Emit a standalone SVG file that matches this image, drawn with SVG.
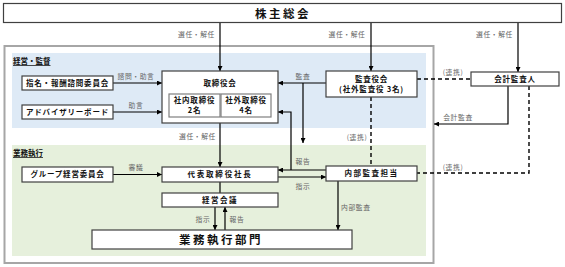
<svg xmlns="http://www.w3.org/2000/svg" width="565" height="267" viewBox="0 0 565 267">
<defs>
<style>
text{font-family:"Noto Sans CJK JP","Noto Sans",sans-serif;}
.box{fill:#fff;stroke:#404040;stroke-width:1.2;}
.inner{fill:#fff;stroke:#7f7f7f;stroke-width:1.2;}
.nt{font-size:7.5px;font-weight:bold;fill:#111;text-anchor:middle;letter-spacing:0.8px;}
.big{font-size:11.5px;font-weight:bold;fill:#111;text-anchor:middle;letter-spacing:2.5px;}
.lb{font-size:6.8px;fill:#666;letter-spacing:0.6px;}
.sec{font-size:7.5px;font-weight:bold;fill:#111;text-decoration:underline;}
.c{fill:none;stroke:#000;stroke-width:1.2;}
.d{fill:none;stroke:#000;stroke-width:1.4;stroke-dasharray:4 3;}
</style>
<marker id="arr" viewBox="0 0 6 6" refX="6" refY="3" markerWidth="5" markerHeight="5" orient="auto" markerUnits="userSpaceOnUse">
<path d="M0,0 L6,3 L0,6 z" fill="#000"/>
</marker>
</defs>
<rect width="565" height="267" fill="#fff"/>

<g id="frame">
<rect x="4.5" y="46" width="429" height="217" fill="#fff" stroke="#a6a6a6" stroke-width="2"/>
<rect x="12" y="53" width="414" height="75" fill="#deeaf6"/>
<rect x="12" y="145" width="414" height="111" fill="#e6f0dc"/>
<text class="sec" x="13" y="64">経営・監督</text>
<text class="sec" x="13" y="156">業務執行</text>
</g>

<g id="connectors">
<path class="c" d="M220,23 V71" marker-end="url(#arr)"/>
<path class="c" d="M371,23 V71" marker-end="url(#arr)"/>
<path class="c" d="M518,23 V72" marker-end="url(#arr)"/>
<path class="c" d="M220,123 V167" marker-end="url(#arr)"/>
<path class="c" d="M113,83 H162" marker-end="url(#arr)"/>
<path class="c" d="M113,112 H162" marker-end="url(#arr)"/>
<path class="c" d="M113,174.5 H162" marker-end="url(#arr)"/>
<path class="c" d="M326,83 H278" marker-end="url(#arr)"/>
<path class="c" d="M303,83 V143" marker-end="url(#arr)"/>
<path class="c" d="M326,170 H278" marker-end="url(#arr)"/>
<path class="c" d="M291,170 V112 H278" marker-end="url(#arr)"/>
<path class="c" d="M278,177 H326" marker-end="url(#arr)"/>
<path class="c" d="M220,182 V193"/>
<path class="c" d="M215,207 V230" marker-end="url(#arr)"/>
<path class="c" d="M225,230 V207" marker-end="url(#arr)"/>
<path class="c" d="M338,181 V230" marker-end="url(#arr)"/>
<path class="c" d="M508,86 V124 H434" marker-end="url(#arr)"/>
<path class="d" d="M417,79 H471"/>
<path class="d" d="M371,97 V166"/>
<path class="d" d="M529,86 V173 H417"/>
<text class="lb" x="215" y="37" text-anchor="end">選任・解任</text>
<text class="lb" x="347" y="37" text-anchor="middle">選任・解任</text>
<text class="lb" x="513" y="37" text-anchor="end">選任・解任</text>
<text class="lb" x="216" y="139" text-anchor="end">選任・解任</text>
<text class="lb" x="136" y="79" text-anchor="middle">諮問・助言</text>
<text class="lb" x="136" y="108" text-anchor="middle">助言</text>
<text class="lb" x="303" y="79" text-anchor="middle">監査</text>
<text class="lb" x="303" y="164" text-anchor="middle">報告</text>
<text class="lb" x="303" y="189" text-anchor="middle">指示</text>
<text class="lb" x="453" y="75" text-anchor="middle">(連携)</text>
<text class="lb" x="357" y="140" text-anchor="middle">(連携)</text>
<text class="lb" x="453" y="170" text-anchor="middle">(連携)</text>
<text class="lb" x="458" y="120" text-anchor="middle">会計監査</text>
<text class="lb" x="341" y="210">内部監査</text>
<text class="lb" x="136" y="170" text-anchor="middle">審議</text>
<text class="lb" x="203" y="222" text-anchor="middle">指示</text>
<text class="lb" x="237" y="222" text-anchor="middle">報告</text>
</g>

<g id="shareholders">
<rect class="box" x="3.5" y="3.5" width="558" height="19"/>
<text class="big" x="283" y="17.5">株主総会</text>
</g>
<g id="nomination">
<rect class="box" x="22" y="76" width="91" height="14"/>
<text class="nt" x="67.5" y="85.7">指名・報酬諮問委員会</text>
</g>
<g id="advisory">
<rect class="box" x="22" y="105" width="91" height="14"/>
<text class="nt" x="67.5" y="114.7">アドバイザリーボード</text>
</g>
<g id="board">
<rect class="box" x="162" y="71" width="116" height="52"/>
<text class="nt" x="220" y="86">取締役会</text>
<rect class="inner" x="169" y="94" width="51" height="23"/>
<text class="nt" x="194.5" y="103">社内取締役</text>
<text class="nt" x="194.5" y="113">2名</text>
<rect class="inner" x="221" y="94" width="50" height="23"/>
<text class="nt" x="246" y="103">社外取締役</text>
<text class="nt" x="246" y="113">4名</text>
</g>
<g id="auditors">
<rect class="box" x="326" y="71" width="91" height="26"/>
<text class="nt" x="371.5" y="81.5">監査役会</text>
<text class="nt" x="371.5" y="92">(社外監査役 3名)</text>
</g>
<g id="accountant">
<rect class="box" x="471" y="72" width="88" height="14"/>
<text class="nt" x="515" y="81.7">会計監査人</text>
</g>
<g id="group">
<rect class="box" x="22" y="167" width="91" height="15"/>
<text class="nt" x="67.5" y="177.2">グループ経営委員会</text>
</g>
<g id="president">
<rect class="box" x="162" y="167" width="116" height="15"/>
<text class="nt" x="220" y="177.2" style="letter-spacing:1.8px">代表取締役社長</text>
</g>
<g id="mgmt">
<rect class="box" x="162" y="193" width="116" height="14"/>
<text class="nt" x="220" y="202.7" style="letter-spacing:1.5px">経営会議</text>
</g>
<g id="operations">
<rect class="box" x="92" y="230" width="260" height="19"/>
<text class="big" x="221" y="244">業務執行部門</text>
</g>
<g id="internal">
<rect class="box" x="326" y="166" width="91" height="15"/>
<text class="nt" x="371.5" y="176.2" style="letter-spacing:1.5px">内部監査担当</text>
</g>
</svg>
